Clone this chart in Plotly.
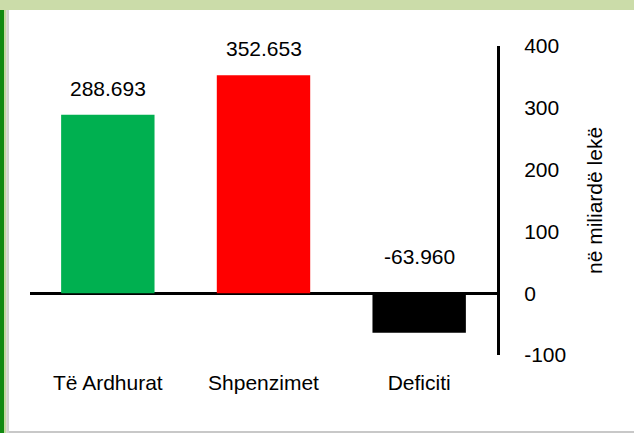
import plotly.graph_objects as go

categories = ["Të Ardhurat", "Shpenzimet", "Deficiti"]
values = [288.693, 352.653, -63.960]
labels = ["288.693", "352.653", "-63.960"]
colors = ["#00b050", "#ff0000", "#000000"]
y_ticks = [-100, 0, 100, 200, 300, 400]
y_ticktext = ["-100", "0", "100", "200", "300", "400"]
y_title = "në miliardë lekë"

W, H = 634, 433
L, R, T, B = 30, 137, 46, 78
pw, ph = W - L - R, H - T - B

def xp(px):
    return (px - L) / pw

def yp(py):
    return (H - B - py) / ph

font = "Liberation Sans, Arial, sans-serif"

fig = go.Figure()
fig.add_trace(go.Bar(x=categories, y=values, marker=dict(color=colors, line=dict(width=0)),
                     showlegend=False, hoverinfo="skip"))

annotations = []
for c, v, t in zip(categories, values, labels):
    annotations.append(dict(x=c, y=max(v, 0), text=t, showarrow=False, xanchor="center",
                            yanchor="bottom", yshift=13 if v >= 0 else 23,
                            font=dict(family=font, size=21, color="#000")))
annotations.append(dict(xref="paper", yref="paper", x=xp(595), y=yp(201), text=y_title,
                        textangle=-90, showarrow=False, xanchor="center", yanchor="middle",
                        font=dict(family=font, size=21, color="#000")))

def rect(x0, y0, x1, y1, color):
    return dict(type="rect", xref="paper", yref="paper", x0=xp(x0), x1=xp(x1),
                y0=yp(y1), y1=yp(y0), fillcolor=color, line=dict(width=0), layer="below")

shapes = [
    rect(0, 0, W, 10, "#cbdca9"),
    rect(0, 10, 4, H, "#118a11"),
    rect(4, 10, 6.5, H, "#c3d8a0"),
    rect(6.5, 10, 9, H, "#d2d2d2"),
    rect(9, 431, W, H, "#c8c8c8"),
]

fig.update_layout(
    width=W, height=H,
    margin=dict(l=L, r=R, t=T, b=B, pad=0),
    paper_bgcolor="white", plot_bgcolor="white",
    bargap=0.40,
    font=dict(family=font, size=21, color="#000"),
    annotations=annotations,
    shapes=shapes,
    xaxis=dict(showgrid=False, showline=False, ticks="", zeroline=False,
               tickfont=dict(size=21), ticklabelstandoff=13),
    yaxis=dict(side="right", range=[-100, 400], tickvals=y_ticks, ticktext=y_ticktext,
               showgrid=False, showline=True, linecolor="#000", linewidth=3, ticks="",
               zeroline=True, zerolinecolor="#000", zerolinewidth=3,
               tickfont=dict(size=21), ticklabelstandoff=20),
)

fig.write_html("out.html", config={"displayModeBar": False},
               post_script="document.body.style.margin='0';document.body.style.overflow='hidden';")
